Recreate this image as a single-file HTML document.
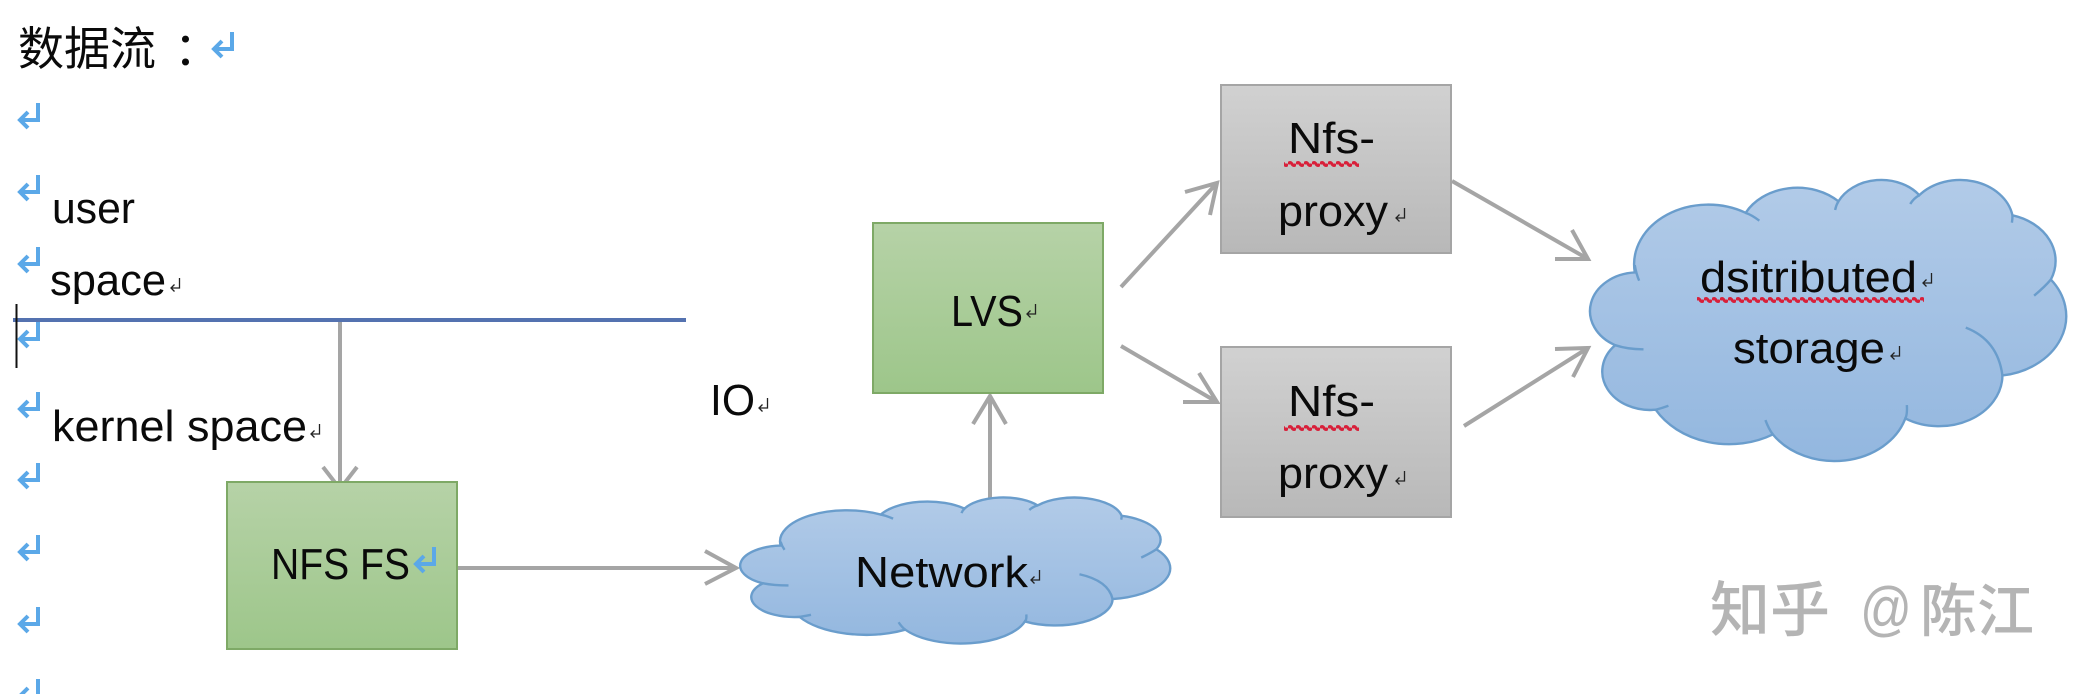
<!DOCTYPE html>
<html lang="zh">
<head>
<meta charset="utf-8">
<title>数据流</title>
<style>
html,body{margin:0;padding:0;background:#fff;width:2088px;height:694px;overflow:hidden}
svg{display:block}
text{font-family:"Liberation Sans","Noto Sans CJK SC",sans-serif;font-size:44px;fill:#0a0a0a}
.a{fill:none;stroke:#a5a5a5;stroke-width:4}
.c{fill:url(#blue);stroke:#6a9dcc;stroke-width:2.4;vector-effect:non-scaling-stroke}
.cl{fill:none;stroke:#6a9dcc;stroke-width:2.4;vector-effect:non-scaling-stroke}
</style>
</head>
<body>
<svg width="2088" height="694" viewBox="0 0 2088 694" xmlns="http://www.w3.org/2000/svg">
<defs>
<linearGradient id="green" x1="0" y1="0" x2="0" y2="1"><stop offset="0" stop-color="#b6d2a7"/><stop offset="1" stop-color="#9dc68a"/></linearGradient>
<linearGradient id="gray" x1="0" y1="0" x2="0" y2="1"><stop offset="0" stop-color="#d1d1d1"/><stop offset="1" stop-color="#b8b8b8"/></linearGradient>
<linearGradient id="blue" x1="0" y1="0" x2="0" y2="1"><stop offset="0" stop-color="#b2cbe8"/><stop offset="1" stop-color="#93b7df"/></linearGradient>
<pattern id="sq" width="8" height="8" patternUnits="userSpaceOnUse"><path d="M0 4Q2 1 4 4T8 4" fill="none" stroke="#d8203a" stroke-width="3"/></pattern>
<g id="bm"><path d="M20 0V17H3M10 9L2 17L10 25" fill="none" stroke="#5ba8e8" stroke-width="4"/></g>
<g id="sm"><path d="M9.5 0V10H1M4.5 6.5L1 10L4.5 13.5" fill="none" stroke="#222" stroke-width="1.3"/></g>
<g id="cloud">
<path class="c" d="M3900 14370A6753 9190 0 0 1 14005 5202A5333 7267 0 0 1 22457 3433A4365 5945 0 0 1 29835 2482A4857 6595 0 0 1 38320 5578A5333 7273 0 0 1 41820 15463A6775 9220 0 0 1 37405 30206A5785 7867 0 0 1 28556 36814A6752 9215 0 0 1 16480 39264A7720 10543 0 0 1 5804 35471A4360 5918 0 0 1 2113 25548A4345 5945 0 0 1 3900 14370Z"/>
<path class="cl" d="M4693 26177Q3300 26200 2113 25548M6966 34851Q6400 35200 5804 35471M15805 37054Q16100 38400 16480 39264M28695 34748Q28750 36200 28556 36814M34065 22858Q36981 24754 37405 30206M40295 17938Q41277 16555 41820 15463M38270 6715Q38330 6048 38320 5578M29002 3845Q29309 2973 29835 2482M22158 4767Q22250 4000 22457 3433M15252 6407Q14577 5536 14005 5202M3897 13223Q4020 14505 4296 15632"/>
</g>
</defs>

<rect width="2088" height="694" fill="#fff"/>

<!-- page text -->
<text x="18" y="65" style="font-size:46px;font-family:'Noto Sans CJK SC','Liberation Sans',sans-serif">数据流</text>
<text x="174" y="65" style="font-size:46px;font-family:'Noto Sans CJK SC','Liberation Sans',sans-serif">：</text>
<use href="#bm" x="212" y="32"/>
<use href="#bm" x="18" y="103"/>
<use href="#bm" x="18" y="175"/>
<use href="#bm" x="18" y="247"/>
<use href="#bm" x="18" y="322"/>
<use href="#bm" x="18" y="392"/>
<use href="#bm" x="18" y="463"/>
<use href="#bm" x="18" y="535"/>
<use href="#bm" x="18" y="607"/>
<use href="#bm" x="18" y="679"/>

<text x="52" y="223" textLength="83" lengthAdjust="spacingAndGlyphs">user</text>
<text x="50" y="295" textLength="116" lengthAdjust="spacingAndGlyphs">space</text>
<use href="#sm" x="170" y="278"/>
<text x="52" y="441" textLength="255" lengthAdjust="spacingAndGlyphs">kernel  space</text>
<use href="#sm" x="310" y="424"/>
<text x="710" y="415" textLength="45" lengthAdjust="spacingAndGlyphs">IO</text>
<use href="#sm" x="758" y="398"/>

<!-- lines -->
<path class="a" d="M340 320V488M323 467L340 489L357 467"/>
<rect x="13" y="318" width="673" height="4" fill="#5472b0"/>
<rect x="15.5" y="304" width="2" height="64" fill="#111"/>

<path class="a" d="M457 568H736M705 551L736 568L705 584"/>
<path class="a" d="M990 498V397M973 424L990 396L1006 424"/>
<path class="a" d="M1121 287L1217 183M1185 192L1217 183L1210 215"/>
<path class="a" d="M1121 346L1217 402M1199 373L1217 402L1183 402"/>
<path class="a" d="M1452 181L1588 259M1572 230L1588 259L1555 259"/>
<path class="a" d="M1464 426L1588 348M1555 349L1588 348L1573 377"/>

<!-- boxes -->
<rect x="227" y="482" width="230" height="167" fill="url(#green)" stroke="#7ea966" stroke-width="2"/>
<text x="271" y="579" textLength="139" lengthAdjust="spacingAndGlyphs">NFS FS</text>
<use href="#bm" x="414" y="547"/>

<rect x="873" y="223" width="230" height="170" fill="url(#green)" stroke="#7ea966" stroke-width="2"/>
<text x="951" y="326" textLength="72" lengthAdjust="spacingAndGlyphs">LVS</text>
<use href="#sm" x="1026" y="304"/>

<rect x="1221" y="85" width="230" height="168" fill="url(#gray)" stroke="#a5a5a5" stroke-width="2"/>
<text x="1288" y="153" textLength="87" lengthAdjust="spacingAndGlyphs">Nfs-</text>
<rect x="1284" y="160" width="75" height="8" fill="url(#sq)"/>
<text x="1278" y="226" textLength="110" lengthAdjust="spacingAndGlyphs">proxy</text>
<use href="#sm" x="1395" y="208"/>

<rect x="1221" y="347" width="230" height="170" fill="url(#gray)" stroke="#a5a5a5" stroke-width="2"/>
<text x="1288" y="416" textLength="87" lengthAdjust="spacingAndGlyphs">Nfs-</text>
<rect x="1284" y="424" width="75" height="8" fill="url(#sq)"/>
<text x="1278" y="488" textLength="110" lengthAdjust="spacingAndGlyphs">proxy</text>
<use href="#sm" x="1395" y="471"/>

<!-- clouds -->
<use href="#cloud" transform="translate(742 497) scale(0.0099074 0.0033796)"/>
<text x="855" y="587" textLength="173" lengthAdjust="spacingAndGlyphs">Network</text>
<use href="#sm" x="1030" y="570"/>

<use href="#cloud" transform="translate(1592 179) scale(0.0109722 0.0065046)"/>
<text x="1700" y="292" textLength="217" lengthAdjust="spacingAndGlyphs">dsitributed</text>
<rect x="1697" y="296" width="227" height="8" fill="url(#sq)"/>
<use href="#sm" x="1922" y="273"/>
<text x="1733" y="363" textLength="152" lengthAdjust="spacingAndGlyphs">storage</text>
<use href="#sm" x="1890" y="346"/>

<!-- watermark -->
<text x="1710" y="631" style="font-size:60px;fill:#b4b4b4;font-weight:500;font-family:'Noto Sans CJK SC',sans-serif">知乎</text>
<text x="1860" y="629" style="font-size:60px;fill:#b4b4b4;font-family:'Liberation Sans',sans-serif" textLength="52" lengthAdjust="spacingAndGlyphs">@</text>
<text x="1920" y="631" style="font-size:57px;fill:#b4b4b4;font-weight:500;font-family:'Noto Sans CJK SC',sans-serif">陈江</text>
</svg>
</body>
</html>
